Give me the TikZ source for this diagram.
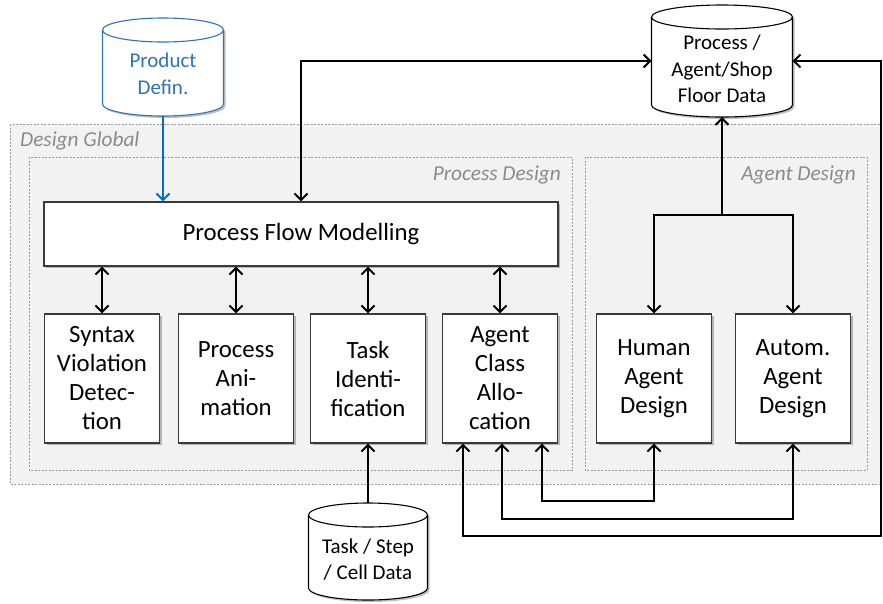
\documentclass[tikz,border=0pt]{standalone}
\usepackage{fontspec}
\setmainfont{Carlito}
\usetikzlibrary{arrows.meta,shadows}
\definecolor{bordergray}{HTML}{3A3A3A}
\definecolor{zonefill}{HTML}{F2F2F2}
\definecolor{dashgray}{HTML}{9A9A9A}
\definecolor{labelgray}{HTML}{8A8A8A}
\definecolor{cylblue}{HTML}{2E75B6}
\definecolor{arrowblue}{HTML}{0070C0}
\newcommand{\drawcyl}[3]{%
  \path[draw=#2, fill=white, line width=1.1pt, softshadow]
    ([yshift=-12pt]#1.north west) -- ([yshift=12pt]#1.south west)
    arc[start angle=180,end angle=360,x radius=#3,y radius=12pt]
    -- ([yshift=-12pt]#1.north east)
    arc[start angle=0,end angle=180,x radius=#3,y radius=12pt] -- cycle;
  \draw[draw=#2, line width=1.1pt] ([yshift=-12pt]#1.north west)
    arc[start angle=180,end angle=360,x radius=#3,y radius=12pt];
}
\begin{document}
\begin{tikzpicture}[x=1pt,y=-1pt,
  >={Straight Barb[length=6.5pt,width=13pt]},
  conn/.style={line width=2pt, draw=black},
  zone/.style={draw=dashgray, fill=zonefill, dash pattern=on 2pt off 1.5pt, line width=0.8pt},
  softshadow/.style={drop shadow={shadow xshift=2pt, shadow yshift=-2pt, opacity=0.25, fill=black}},
  blk/.style={draw=bordergray, fill=white, line width=1.2pt, minimum width=115pt, minimum height=129pt,
    inner sep=0pt, align=center, font=\fontsize{24.8}{29}\selectfont, softshadow},
  cylnode/.style={inner sep=0pt, outer sep=0pt},
  cyltext/.style={align=center, font=\fontsize{21}{26.5}\selectfont, inner sep=0pt},
  zlabel/.style={font=\itshape\fontsize{21.3}{25}\selectfont, text=labelgray, inner sep=0pt}]
\useasboundingbox (0,0) rectangle (883,603);

% zones
\path[zone] (10,124) rectangle (881,484);
\path[zone] (29,157) rectangle (572,470);
\path[zone] (585,157) rectangle (867,470);
\node[zlabel, anchor=west] (lglob) at (20,141) {Design Global};
\node[zlabel, anchor=east] (lproc) at (561,175) {Process Design};
\node[zlabel, anchor=east] (lagent) at (856,175) {Agent Design};

% cylinders
\node[cylnode, minimum width=121pt, minimum height=98pt] (pd) at (163,67) {};
\drawcyl{pd}{cylblue}{60.5pt}
\node[cyltext, text=cylblue] (pdt) at ([yshift=-7pt]pd.center) {Product\\Defin.};

\node[cylnode, minimum width=141pt, minimum height=112pt] (pas) at (722,61) {};
\drawcyl{pas}{black}{70.5pt}
\node[cyltext] (past) at ([yshift=-8pt]pas.center) {Process /\\Agent/Shop\\Floor Data};

\node[cylnode, minimum width=119pt, minimum height=97pt] (ts) at (368,551.5) {};
\drawcyl{ts}{black}{59.5pt}
\node[cyltext] (tst) at ([yshift=-8pt]ts.center) {Task / Step\\/ Cell Data};

% blocks
\node[blk, minimum width=514pt, minimum height=64pt] (pfm) at (301,234) {Process Flow Modelling};
\node[blk] (syn) at (102,378.5) {Syntax\\Violation\\Detec-\\tion};
\node[blk] (ani) at (236,378.5) {Process\\Ani-\\mation};
\node[blk] (tid) at (368,378.5) {Task\\Identi-\\fication};
\node[blk] (acl) at (500,378.5) {Agent\\Class\\Allo-\\cation};
\node[blk] (hum) at (654,378.5) {Human\\Agent\\Design};
\node[blk] (aut) at (793,378.5) {Autom.\\Agent\\Design};

% connectors
\draw[conn, ->, draw=arrowblue] (pd.south) -- (pd.south |- pfm.north);
\draw[conn, <->] (pfm.north) |- (pas.west);
\draw[conn, <->] (syn.north) -- (syn.north |- pfm.south);
\draw[conn, <->] (ani.north) -- (ani.north |- pfm.south);
\draw[conn, <->] (tid.north) -- (tid.north |- pfm.south);
\draw[conn, <->] (acl.north) -- (acl.north |- pfm.south);

\coordinate (br) at (722,215);
\draw[conn, ->] (br) -- (br |- pas.south);
\draw[conn, ->] (br) -| (hum.north);
\draw[conn, ->] (br) -| (aut.north);

\draw[conn, ->] (ts.north) -- (ts.north |- tid.south);

\coordinate (a1) at ([xshift=-37pt]acl.south);
\coordinate (a2) at ([xshift=2pt]acl.south);
\coordinate (a3) at ([xshift=42pt]acl.south);
\coordinate (m1) at (881,536);
\coordinate (m2) at (0,519);
\coordinate (m3) at (0,501);
\draw[conn, <->] (a3) -- (a3 |- m3) -| (hum.south);
\draw[conn, <->] (a2) -- (a2 |- m2) -| (aut.south);
\draw[conn, <->] (a1) |- (m1) |- (pas.east);
\end{tikzpicture}
\end{document}
